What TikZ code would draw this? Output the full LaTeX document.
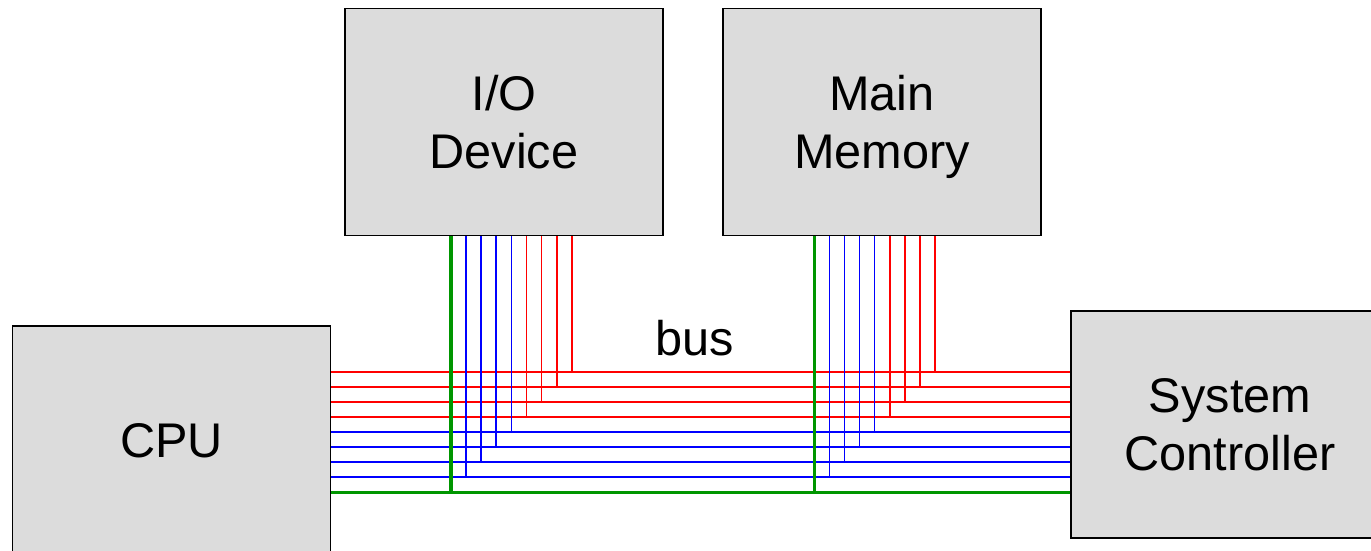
\documentclass[tikz,border=0pt]{standalone}
\usepackage{fontspec}
\setmainfont{Liberation Sans}
\definecolor{boxgray}{RGB}{220,220,220}
\definecolor{busred}{RGB}{255,0,0}
\definecolor{busblue}{RGB}{0,0,255}
\definecolor{busgreen}{RGB}{0,150,0}
\begin{document}
\begin{tikzpicture}[x=0.75pt,y=-0.75pt,
  box/.style={draw=black, fill=boxgray, line width=1.1pt, inner sep=0pt,
    minimum width=238.5pt, minimum height=170.25pt, align=center,
    font=\fontsize{36.5}{43.5}\selectfont},
  wred/.style={draw=busred, line width=1.3pt},
  wblue/.style={draw=busblue, line width=1.3pt},
  wgreen/.style={draw=busgreen, line width=2.3pt},
  lbl/.style={font=\fontsize{36.5}{43.5}\selectfont}]
\useasboundingbox (0,0) rectangle (1371,550);
\node[box] (io) at (504,122) {I/O\\Device};
\node[box] (mem) at (882,122) {Main\\\smash{Memory}};
\node[box, minimum height=172.5pt] (cpu) at (171.5,441) {CPU};
\node[box] (sc) at (1230,424.5) {System\\Controller};
\node[lbl] (bus) at (695,338) {bus};
% horizontal bus lines
\foreach \j/\s in {0/wred,1/wred,2/wred,3/wred,4/wblue,5/wblue,6/wblue,7/wblue,8/wgreen}{
  \coordinate (y\j) at (0,{371.7+15.08*\j});
  \draw[\s] (cpu.east |- y\j) -- (sc.west |- y\j);
}
% vertical taps
\foreach \i/\s in {0/wgreen,1/wblue,2/wblue,3/wblue,4/wblue,5/wred,6/wred,7/wred,8/wred}{
  \pgfmathtruncatemacro\k{8-\i}
  \coordinate (iox\i) at ({451+15.1*\i},0);
  \coordinate (memx\i) at ({814.3+15.08*\i},0);
  \draw[\s] (io.south -| iox\i) -- (iox\i |- y\k);
  \draw[\s] (mem.south -| memx\i) -- (memx\i |- y\k);
}
\end{tikzpicture}
\end{document}
